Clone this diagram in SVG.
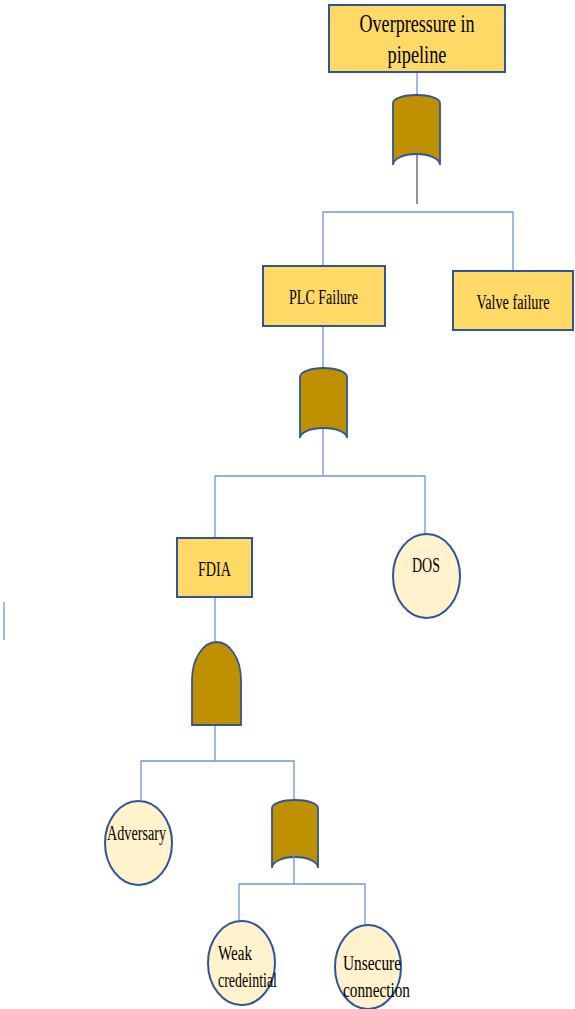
<svg xmlns="http://www.w3.org/2000/svg" width="575" height="1009" viewBox="0 0 575 1009">
  <style>
    .box { fill: #FFD966; stroke: #2F5597; stroke-width: 2; }
    .basic { fill: #FFF2CC; stroke: #2F5597; stroke-width: 2; }
    .gate { fill: #BF9000; stroke: #2F5597; stroke-width: 1.8; }
    .wire { fill: none; stroke: #6F95D6; stroke-width: 1.3; }
    .wire-dark { fill: none; stroke: #595959; stroke-width: 1.3; }
    text { font-family: "Liberation Serif", "Times New Roman", serif; fill: #000; }
    .mid { text-anchor: middle; }
  </style>

  <rect width="575" height="1009" fill="#FFFFFF"/>

  <!-- connectors -->
  <g id="connectors">
    <line class="wire" x1="417" y1="73" x2="417" y2="96"/>
    <line class="wire-dark" x1="417" y1="154" x2="417" y2="204"/>
    <polyline class="wire" points="323,266 323,212 513,212 513,270"/>
    <line class="wire" x1="323" y1="326" x2="323" y2="369"/>
    <line class="wire" x1="323" y1="428" x2="323" y2="476"/>
    <polyline class="wire" points="215,538 215,476 425,476 425,534"/>
    <line class="wire" x1="215" y1="597" x2="215" y2="642"/>
    <line class="wire" x1="215" y1="725" x2="215" y2="761"/>
    <polyline class="wire" points="141,800 141,761 294,761 294,801"/>
    <polyline class="wire" points="239,922 239,884 365,884 365,925"/>
    <line class="wire" x1="4" y1="602" x2="4" y2="640" stroke="#4472C4" stroke-width="1.6"/>
  </g>

  <!-- top event -->
  <g id="overpressure">
    <rect class="box" x="329" y="5" width="176" height="67"/>
    <text class="mid" x="417" y="32" font-size="26" textLength="115" lengthAdjust="spacingAndGlyphs">Overpressure in</text>
    <text class="mid" x="417" y="63" font-size="26" textLength="59" lengthAdjust="spacingAndGlyphs">pipeline</text>
  </g>

  <g id="gate-or-1">
    <path class="gate" d="M393,103 A23.5,8 0 0 1 440,103 L440,165 A23.5,11 0 0 0 393,165 Z"/>
  </g>

  <g id="plc-failure">
    <rect class="box" x="263" y="266" width="122" height="60"/>
    <text class="mid" x="323.5" y="304" font-size="20" textLength="69" lengthAdjust="spacingAndGlyphs">PLC Failure</text>
  </g>

  <g id="valve-failure">
    <rect class="box" x="453" y="271" width="120" height="59"/>
    <text class="mid" x="513" y="309" font-size="20" textLength="73" lengthAdjust="spacingAndGlyphs">Valve failure</text>
  </g>

  <g id="gate-or-2">
    <path class="gate" d="M300,377 A23.5,9 0 0 1 347,377 L347,438 A23.5,10 0 0 0 300,438 Z"/>
  </g>

  <g id="fdia">
    <rect class="box" x="177" y="538" width="75" height="59"/>
    <text class="mid" x="214.5" y="576" font-size="21" textLength="33" lengthAdjust="spacingAndGlyphs">FDIA</text>
  </g>

  <g id="dos">
    <ellipse class="basic" cx="426.5" cy="576" rx="33.5" ry="42"/>
    <text class="mid" x="426" y="572" font-size="21" textLength="28" lengthAdjust="spacingAndGlyphs">DOS</text>
  </g>

  <g id="gate-and">
    <path class="gate" d="M192,725 L192,680 A24.5,38 0 0 1 241,680 L241,725 Z"/>
  </g>

  <g id="adversary">
    <ellipse class="basic" cx="138.5" cy="843" rx="33.5" ry="42"/>
    <text class="mid" x="136.5" y="840" font-size="20" textLength="59" lengthAdjust="spacingAndGlyphs">Adversary</text>
  </g>

  <g id="gate-or-3">
    <path class="gate" d="M272,808 A23,8 0 0 1 318,808 L318,868 A23,11 0 0 0 272,868 Z"/>
    <line class="wire" x1="294" y1="852" x2="294" y2="884"/>
  </g>

  <g id="weak-credential">
    <ellipse class="basic" cx="241.5" cy="963" rx="33.5" ry="42"/>
    <text x="218" y="960" font-size="20" textLength="34" lengthAdjust="spacingAndGlyphs">Weak</text>
    <text x="218" y="987" font-size="20" textLength="59" lengthAdjust="spacingAndGlyphs">credeintial</text>
  </g>

  <g id="unsecure-connection">
    <ellipse class="basic" cx="368" cy="967" rx="33" ry="42"/>
    <text x="343" y="970" font-size="20" textLength="58" lengthAdjust="spacingAndGlyphs">Unsecure</text>
    <text x="343" y="997" font-size="20" textLength="67" lengthAdjust="spacingAndGlyphs">connection</text>
  </g>
</svg>
